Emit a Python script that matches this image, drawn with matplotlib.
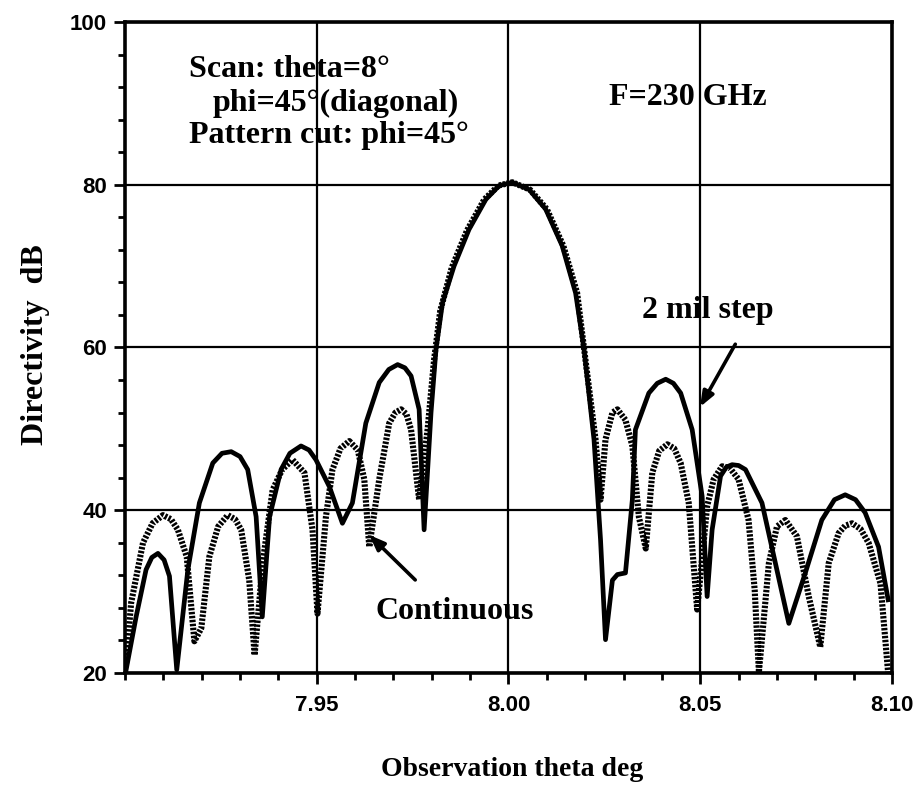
import numpy as np
import matplotlib.pyplot as plt
from matplotlib.ticker import MultipleLocator

# --- data ---
theta_step = [7.9003, 7.9029, 7.9055, 7.9070, 7.9086, 7.9102, 7.9116, 7.9135, 7.9164, 7.9194,
              7.9229, 7.9253, 7.9277, 7.9300, 7.9320, 7.9342, 7.9358, 7.9377, 7.9407, 7.9430,
              7.9459, 7.9480, 7.9498, 7.9533, 7.9567, 7.9593, 7.9628, 7.9663, 7.9688, 7.9711,
              7.9730, 7.9746, 7.9767, 7.9780, 7.9798, 7.9811, 7.9828, 7.9858, 7.9897, 7.9941,
              7.9976, 8.0010, 8.0054, 8.0097, 8.0140, 8.0175, 8.0197, 8.0223, 8.0240, 8.0253,
              8.0271, 8.0284, 8.0305, 8.0323, 8.0331, 8.0366, 8.0388, 8.0410, 8.0430, 8.0449,
              8.0479, 8.0505, 8.0518, 8.0531, 8.0553, 8.0568, 8.0583, 8.0600, 8.0618, 8.0661,
              8.0696, 8.0731, 8.0774, 8.0817, 8.0850, 8.0878, 8.0905, 8.0930, 8.0965, 8.0990]
dir_step = [20.4, 26.9, 32.7, 34.2, 34.7, 33.9, 31.9, 20.4, 32.7, 40.9,
            45.8, 47.0, 47.2, 46.6, 45.0, 39.2, 26.9, 39.2, 45.0, 47.0,
            47.9, 47.4, 46.2, 42.9, 38.4, 40.9, 50.7, 55.7, 57.3, 57.9,
            57.5, 56.5, 52.4, 37.6, 52.0, 59.8, 65.5, 70.0, 74.5, 78.2,
            79.9, 80.3, 79.4, 77.0, 72.5, 66.7, 59.8, 48.7, 36.4, 24.1,
            31.4, 32.1, 32.3, 41.3, 49.9, 54.4, 55.6, 56.1, 55.6, 54.4,
            49.9, 41.7, 29.4, 37.6, 44.2, 45.3, 45.6, 45.5, 45.0, 40.9,
            33.5, 26.1, 32.3, 38.8, 41.3, 41.9, 41.3, 39.7, 35.5, 29.0]

theta_cont = [7.9003, 7.9016, 7.9047, 7.9072, 7.9099, 7.9120, 7.9138, 7.9161, 7.9181, 7.9199,
              7.9220, 7.9243, 7.9268, 7.9287, 7.9303, 7.9324, 7.9338, 7.9359, 7.9385, 7.9410,
              7.9437, 7.9468, 7.9489, 7.9502, 7.9524, 7.9541, 7.9562, 7.9585, 7.9607, 7.9624,
              7.9637, 7.9663, 7.9689, 7.9705, 7.9720, 7.9734, 7.9746, 7.9767, 7.9789, 7.9806,
              7.9822, 7.9852, 7.9892, 7.9937, 7.9974, 8.0010, 8.0056, 8.0100, 8.0143, 8.0179,
              8.0205, 8.0227, 8.0240, 8.0253, 8.0271, 8.0284, 8.0305, 8.0323, 8.0340, 8.0358,
              8.0375, 8.0393, 8.0414, 8.0432, 8.0449, 8.0470, 8.0492, 8.0518, 8.0535, 8.0557,
              8.0577, 8.0600, 8.0626, 8.0642, 8.0653, 8.0679, 8.0700, 8.0722, 8.0752, 8.0783,
              8.0813, 8.0835, 8.0861, 8.0878, 8.0896, 8.0918, 8.0939, 8.0970, 8.0990]
dir_cont = [21.2, 28.6, 36.0, 38.4, 39.4, 38.9, 37.6, 34.3, 23.9, 25.5,
            34.3, 38.0, 39.4, 38.9, 37.6, 31.4, 22.2, 33.5, 42.5, 45.0,
            46.2, 44.6, 37.6, 27.3, 39.2, 45.0, 47.6, 48.5, 47.4, 43.8,
            35.5, 43.8, 50.7, 52.0, 52.4, 51.8, 49.9, 41.3, 49.9, 58.5,
            64.5, 69.8, 74.4, 78.2, 79.9, 80.3, 79.4, 77.0, 72.5, 66.7,
            56.9, 48.7, 41.3, 48.7, 52.0, 52.4, 51.1, 47.9, 39.2, 35.3,
            44.6, 47.3, 48.1, 47.6, 45.8, 40.9, 27.8, 40.5, 43.8, 45.4,
            45.2, 43.8, 38.8, 30.2, 20.1, 33.5, 38.0, 38.8, 36.8, 29.4,
            23.2, 33.5, 37.2, 38.1, 38.4, 37.7, 36.0, 31.0, 20.0]

xticks = [7.95, 8.00, 8.05, 8.10]
xtick_labels = ["7.95", "8.00", "8.05", "8.10"]
yticks = [20, 40, 60, 80, 100]

serif = ["Liberation Serif", "DejaVu Serif"]
sans = ["Liberation Sans", "DejaVu Sans"]

fig = plt.figure(figsize=(9.23, 7.93), dpi=100)
ax = fig.add_axes([0.1354, 0.1513, 0.8310, 0.8210])

ax.plot(theta_step, dir_step, color="black", lw=3.4, solid_joinstyle="round")
ax.plot(theta_cont, dir_cont, color="black", lw=4.4, linestyle=(0, (0.4, 0.25)))

ax.set_xlim(7.90, 8.10)
ax.set_ylim(20, 100)
ax.set_xticks(xticks)
ax.set_xticklabels(xtick_labels)
ax.set_yticks(yticks)
ax.xaxis.set_minor_locator(MultipleLocator(0.01))
ax.yaxis.set_minor_locator(MultipleLocator(4))
ax.grid(True, which="major", color="black", lw=1.6)
ax.tick_params(which="major", direction="out", length=8, width=2)
ax.tick_params(which="minor", direction="out", length=5, width=2)
for lab in ax.get_xticklabels() + ax.get_yticklabels():
    lab.set_family(sans)
    lab.set_fontweight("bold")
    lab.set_fontsize(16)
ax.tick_params(axis="x", pad=8)
ax.tick_params(axis="y", pad=5)
for sp in ax.spines.values():
    sp.set_linewidth(2.6)

# texts
tkw = dict(family=serif, fontweight="bold", fontsize=23, va="center", ha="left")
ax.text(7.9168, 94.2, "Scan: theta=8°", **tkw)
ax.text(7.9228, 90.0, "phi=45°(diagonal)", **tkw)
ax.text(7.9168, 86.1, "Pattern cut: phi=45°", **tkw)
ax.text(8.0262, 90.7, "F=230 GHz", **tkw)

akw = dict(arrowstyle="-|>,head_length=0.9,head_width=0.35", color="black", lw=2.6)
ax.annotate("", xy=(8.0496, 52.4), xytext=(8.0595, 60.7), arrowprops=akw)
ax.text(8.0520, 64.6, "2 mil step", family=serif, fontweight="bold", fontsize=23,
        ha="center", va="center")
ax.annotate("", xy=(7.9632, 37.2), xytext=(7.9762, 31.2), arrowprops=akw)
ax.text(7.9861, 27.6, "Continuous", family=serif, fontweight="bold", fontsize=23,
        ha="center", va="center")

fig.text(0.038, 0.565, "Directivity  dB", rotation=90, family=serif, fontweight="bold",
         fontsize=23, ha="center", va="center")
fig.text(0.555, 0.03, "Observation theta deg", family=serif, fontweight="bold",
         fontsize=20, ha="center", va="center")

fig.savefig("out.png", dpi=100)
